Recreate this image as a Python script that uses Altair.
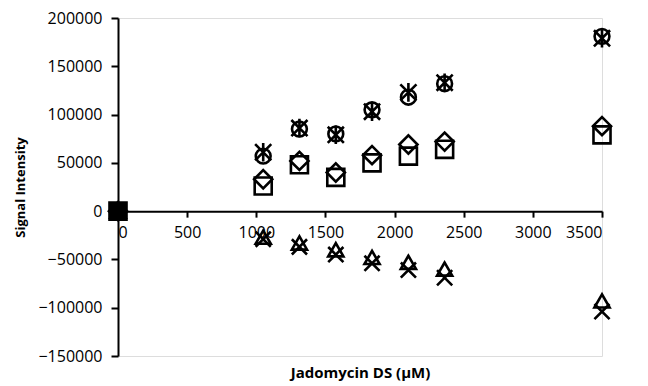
import altair as alt
import pandas as pd

conc = [0, 1050, 1312, 1575, 1837, 2100, 2362, 3500]
circle_vals = [0, 57000, 85000, 80000, 105000, 118000, 132000, 181000]
star_vals = [0, 61000, 86000, 79000, 103000, 123000, 133000, 179000]
diamond_vals = [0, 33000, 52000, 40000, 58000, 69000, 72000, 88000]
square_vals = [0, 26000, 48000, 35000, 50000, 57000, 64000, 79000]
triangle_vals = [0, -27000, -33000, -40000, -48000, -53000, -60000, -93000]
cross_vals = [0, -29000, -37000, -45000, -54000, -61000, -69000, -104000]

x_ticks = [0, 500, 1000, 1500, 2000, 2500, 3000, 3500]
y_ticks = [-150000, -100000, -50000, 0, 50000, 100000, 150000, 200000]

W, H = 484, 338
Y_MIN, Y_MAX = -150000, 200000
FONT = "Open Sans"

STAR = "M-1,-1L1,1M-1,1L1,-1M0,-1.15L0,1.15"
XMARK = "M-1,-1L1,1M-1,1L1,-1"

series = [
    ("star", star_vals, STAR, 260),
    ("circle", circle_vals, "circle", 220),
    ("diamond", diamond_vals, "diamond", 330),
    ("square", square_vals, "square", 290),
    ("cross", cross_vals, XMARK, 230),
    ("triangle", triangle_vals, "triangle-up", 230),
]

x_scale = alt.Scale(domain=[0, 3500], nice=False, zero=False)
y_scale = alt.Scale(domain=[Y_MIN, Y_MAX], nice=False)

x_axis = alt.Axis(
    values=x_ticks, grid=False, format="d", offset=-H * (0 - Y_MIN) / (Y_MAX - Y_MIN),
    domainColor="black", domainWidth=2, tickColor="black", tickWidth=2, tickSize=6,
    labelFont=FONT, labelFontSize=16, labelColor="black", labelPadding=7,
    title="Jadomycin DS (µM)", titleFont=FONT, titleFontSize=15, titleFontWeight="bold",
    titleColor="black", titlePadding=125,
)
y_axis = alt.Axis(
    values=y_ticks, grid=False, format="d",
    domainColor="black", domainWidth=2, tickColor="black", tickWidth=2, tickSize=7,
    labelFont=FONT, labelFontSize=16, labelColor="black", labelPadding=9,
    title="Signal Intensity", titleFont=FONT, titleFontSize=13, titleFontWeight="bold",
    titleColor="black", titlePadding=10,
)

layers = []
for i, (name, vals, shape, size) in enumerate(series):
    df = pd.DataFrame({"conc": conc, "val": vals})
    if i == 0:
        enc = dict(x=alt.X("conc:Q", scale=x_scale, axis=x_axis),
                   y=alt.Y("val:Q", scale=y_scale, axis=y_axis))
    else:
        enc = dict(x=alt.X("conc:Q", scale=x_scale),
                   y=alt.Y("val:Q", scale=y_scale))
    layers.append(
        alt.Chart(df).mark_point(shape=shape, size=size, filled=False, color="black",
                                 strokeWidth=2.6, opacity=1).encode(**enc)
    )

# the overlapping origin points render as a solid black block
origin_df = pd.DataFrame({"conc": conc[:1], "val": square_vals[:1]})
layers.append(
    alt.Chart(origin_df).mark_point(shape="square", size=300, filled=True, color="black",
                                    opacity=1, cornerRadius=3).encode(
        x=alt.X("conc:Q", scale=x_scale), y=alt.Y("val:Q", scale=y_scale))
)

chart = alt.layer(*layers).properties(
    width=W, height=H,
    padding={"left": 6, "top": 2, "right": 5, "bottom": 2},
).configure_view(stroke=None).configure(background="white")

chart.save("out.html", embed_options={"renderer": "svg", "actions": False})
